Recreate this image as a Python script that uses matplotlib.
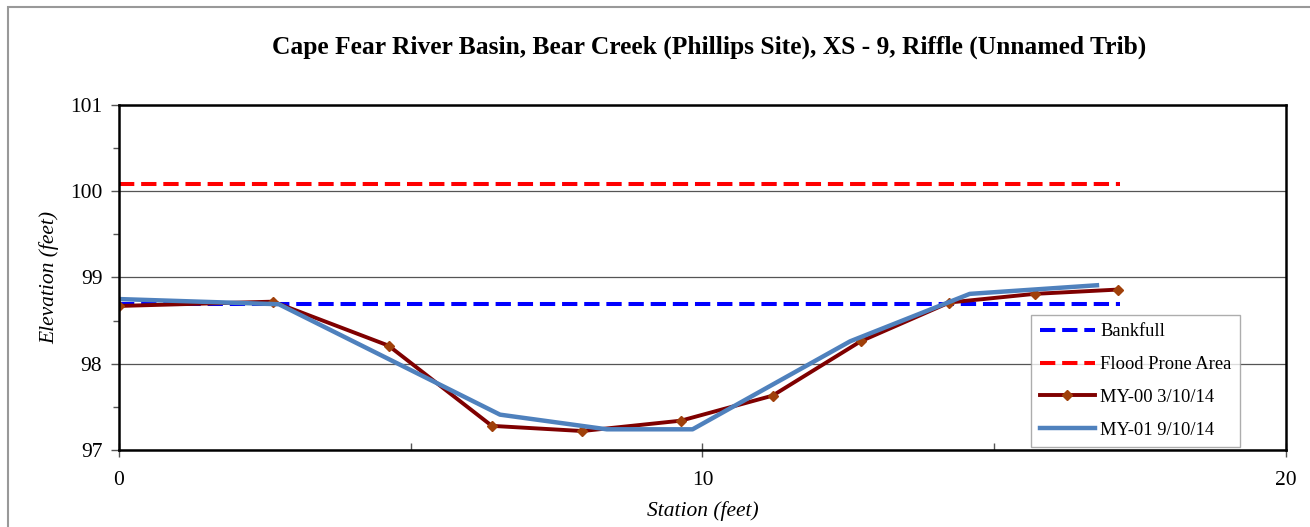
import matplotlib.pyplot as plt
from matplotlib.patches import Rectangle
from matplotlib.ticker import MultipleLocator

# MY-00 survey (3/10/14)
my00_station = [0.0, 2.64, 4.62, 6.39, 7.94, 9.63, 11.2, 12.71, 14.23, 15.69, 17.12]
my00_elev = [98.67, 98.72, 98.21, 97.28, 97.22, 97.34, 97.63, 98.26, 98.71, 98.81, 98.86]

# MY-01 survey (9/10/14)
my01_station = [0.0, 2.74, 6.53, 8.36, 9.83, 11.1, 12.53, 14.58, 16.76]
my01_elev = [98.75, 98.69, 97.41, 97.24, 97.24, 97.72, 98.26, 98.81, 98.91]

bankfull_station = [0.0, 17.15]
bankfull_elev = [98.69, 98.69]
flood_station = [0.0, 17.15]
flood_elev = [100.08, 100.08]

plt.rcParams['font.family'] = ['Liberation Serif', 'DejaVu Serif']

fig = plt.figure(figsize=(13.1, 5.27), dpi=100)
ax = fig.add_axes([0.0908, 0.1461, 0.8909, 0.6547])

dash = (0, (3.8, 1.7))
ax.plot(bankfull_station, bankfull_elev, color="#0000ff", linestyle=dash, linewidth=2.9, label="Bankfull")
ax.plot(flood_station, flood_elev, color="#ff0000", linestyle=dash, linewidth=2.9, label="Flood Prone Area")
ax.plot(my00_station, my00_elev, color="#7f0000", linewidth=2.8, marker="D", markersize=5,
        markerfacecolor="#a0400a", markeredgecolor="#a0400a", label="MY-00 3/10/14")
ax.plot(my01_station, my01_elev, color="#4f81bd", linewidth=3.2, label="MY-01 9/10/14")

ax.set_xlim(0, 20)
ax.set_ylim(97, 101)
ax.xaxis.set_major_locator(MultipleLocator(10))
ax.xaxis.set_minor_locator(MultipleLocator(5))
ax.yaxis.set_major_locator(MultipleLocator(1))
ax.yaxis.set_minor_locator(MultipleLocator(0.5))
ax.tick_params(axis="x", which="major", direction="inout", length=10, width=1, labelsize=15.5, pad=10, color="#555555")
ax.tick_params(axis="x", which="minor", direction="in", length=5, width=1, color="#555555")
ax.tick_params(axis="y", which="major", direction="out", length=6, width=1, labelsize=15.5, pad=6, color="#555555")
ax.tick_params(axis="y", which="minor", direction="out", length=4, width=1, color="#555555")

ax.grid(axis="y", which="major", color="#555555", linewidth=0.9)
ax.set_axisbelow(True)
for s in ax.spines.values():
    s.set_linewidth(1.8)
    s.set_color("black")

ax.set_xlabel("Station (feet)", fontsize=15.5, style="italic", labelpad=8)
ax.set_ylabel("Elevation (feet)", fontsize=15.5, style="italic", labelpad=8)
ax.set_title("Cape Fear River Basin, Bear Creek (Phillips Site), XS - 9, Riffle (Unnamed Trib)",
             fontsize=18.4, fontweight="bold", pad=37, x=0.506)

leg = ax.legend(loc="lower right", bbox_to_anchor=(0.9606, 0.009), fontsize=13.3, frameon=True,
                fancybox=False, handlelength=3.0, labelspacing=0.85, borderpad=0.45,
                handletextpad=0.3, borderaxespad=0)
leg.get_frame().set_edgecolor("#999999")
leg.get_frame().set_linewidth(1.0)

# outer chart-area border (only left and top visible in the frame)
fig.patches.append(Rectangle((8 / 1310, -0.05), 1.2, 1.05 - 7 / 527, transform=fig.transFigure,
                             fill=False, edgecolor="#999999", linewidth=1.5))

fig.savefig("out.png", dpi=100)
plt.close(fig)
